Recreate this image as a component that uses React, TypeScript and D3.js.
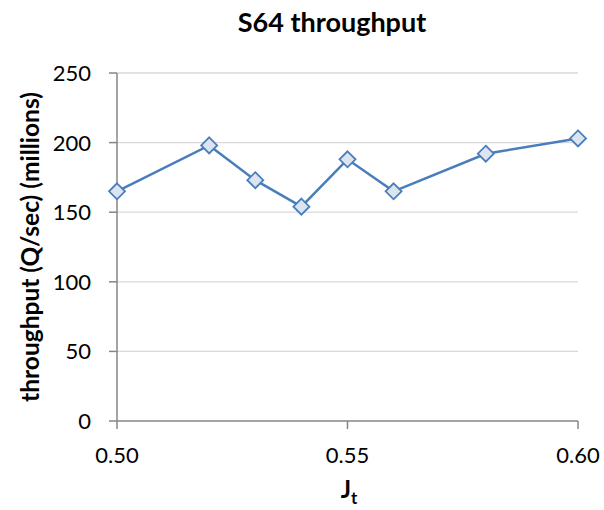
import React from "react";
import * as d3 from "d3";

const xValues = [0.5, 0.52, 0.53, 0.54, 0.55, 0.56, 0.58, 0.6];
const yValues = [165, 198, 173, 154, 188, 165, 192, 203];
const xTicks = [0.5, 0.55, 0.6];
const yTicks = [0, 50, 100, 150, 200, 250];
const title = "S64 throughput";
const yTitle = "throughput (Q/sec) (millions)";

const W = 604;
const H = 510;
const FONT = "Lato, 'Open Sans', sans-serif";

export default function App() {
  const x = d3.scaleLinear().domain([0.5, 0.6]).range([117, 578]);
  const y = d3.scaleLinear().domain([0, 250]).range([421, 73]);
  const line = d3
    .line<number>()
    .x((_, i) => x(xValues[i]))
    .y((d) => y(d));
  const r = 8;
  return (
    <svg
      width={W}
      height={H}
      style={{ position: "absolute", left: 0, top: 0, background: "#fff" }}
      fontFamily={FONT}
    >
      <rect width={W} height={H} fill="#fff" />
      {yTicks.map((t) =>
        t === 0 ? null : (
          <line key={"g" + t} x1={117} x2={578} y1={y(t)} y2={y(t)} stroke="#d9d9d9" strokeWidth={1.3} />
        )
      )}
      <line x1={117} x2={117} y1={73} y2={421} stroke="#868686" strokeWidth={1.5} />
      <line x1={117} x2={578} y1={421} y2={421} stroke="#868686" strokeWidth={1.5} />
      {yTicks.map((t) => (
        <g key={"y" + t}>
          <line x1={109} x2={117} y1={y(t)} y2={y(t)} stroke="#868686" strokeWidth={1.5} />
          <text x={91} y={y(t)} dy="0.36em" textAnchor="end" fontSize={22} fill="#000">
            {t}
          </text>
        </g>
      ))}
      {xTicks.map((t) => (
        <g key={"x" + t}>
          <line x1={x(t)} x2={x(t)} y1={421} y2={429} stroke="#868686" strokeWidth={1.5} />
          <text x={x(t)} y={463} textAnchor="middle" fontSize={22} fill="#000">
            {d3.format(".2f")(t)}
          </text>
        </g>
      ))}
      <path d={line(yValues) || ""} fill="none" stroke="#4a7ebb" strokeWidth={2.5} />
      {yValues.map((v, i) => {
        const cx = x(xValues[i]);
        const cy = y(v);
        return (
          <path
            key={"m" + i}
            d={`M${cx},${cy - r}L${cx + r},${cy}L${cx},${cy + r}L${cx - r},${cy}Z`}
            fill="#dbe5f1"
            stroke="#4a7ebb"
            strokeWidth={1.8}
          />
        );
      })}
      <text x={332} y={32} textAnchor="middle" fontSize={27} fontWeight="bold" fill="#000">
        {title}
      </text>
      <text
        transform={`translate(39,247) rotate(-90)`}
        textAnchor="middle"
        fontSize={24.5}
        fontWeight="bold"
        fill="#000"
      >
        {yTitle}
      </text>
      <text x={349} y={498} textAnchor="middle" fontSize={24} fontWeight="bold" fill="#000">
        J
        <tspan fontSize={17} dy={6}>
          t
        </tspan>
      </text>
    </svg>
  );
}
